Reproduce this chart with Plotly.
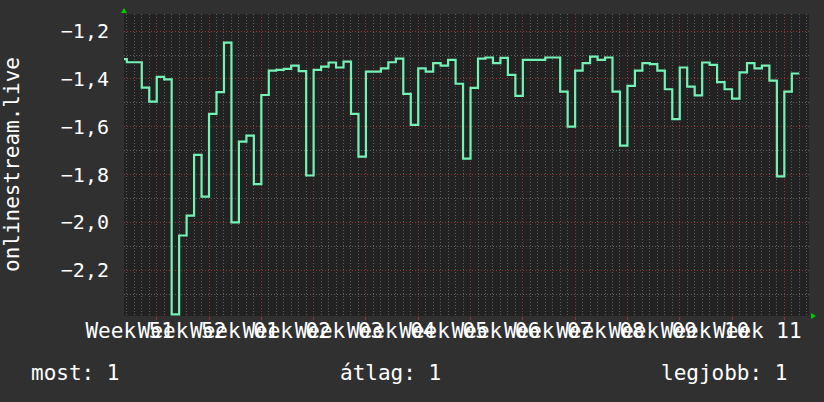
import plotly.graph_objects as go

# ---- data (daily values, day offsets relative to the start of "Week 52") ----
first_day = -5
values = [
    -1.317, -1.330, -1.330, -1.436, -1.495, -1.391, -1.402,
    -2.385, -2.055, -1.972, -1.718, -1.892, -1.546, -1.455, -1.248, -2.000,
    -1.662, -1.637, -1.840, -1.467, -1.365,
    -1.362, -1.358, -1.344, -1.367, -1.804, -1.362, -1.348, -1.331, -1.352,
    -1.327, -1.546, -1.725, -1.369, -1.369, -1.356,
    -1.330, -1.315, -1.462, -1.592, -1.356, -1.369, -1.334, -1.344, -1.320,
    -1.420, -1.733, -1.437, -1.315, -1.310, -1.334, -1.312, -1.383, -1.471,
    -1.320, -1.320,
    -1.320, -1.310, -1.310, -1.453, -1.599, -1.365, -1.334, -1.306, -1.320,
    -1.310, -1.453, -1.679, -1.429, -1.365, -1.334, -1.338, -1.365, -1.443,
    -1.568, -1.352, -1.432, -1.469, -1.331, -1.341, -1.413, -1.443, -1.482,
    -1.372, -1.334, -1.356, -1.344, -1.407, -1.808, -1.453, -1.377,
]
week_labels = ["Week 51", "Week 52", "Week 01", "Week 02", "Week 03", "Week 04",
               "Week 05", "Week 06", "Week 07", "Week 08", "Week 09", "Week 10",
               "Week 11"]
week_ends = [0, 7, 14, 21, 28, 35, 42, 49, 56, 63, 70, 77, 84]
y_ticks = [-2.2, -2.0, -1.8, -1.6, -1.4, -1.2]
y_title = "onlinestream.live"
summary_labels = ["most: 1", "átlag: 1", "legjobb: 1"]

x_range = [-4.38, 87.3]
y_range = [-2.392, -1.128]

# step line: each value covers one day; repeat last value to close its day
xs = list(range(first_day, first_day + len(values) + 1))
ys = values + [values[-1]]

FONT = "DejaVu Sans Mono"
BG = "#303030"
PLOT_BG = "#222222"
LINE = "#74f2b6"
MAJOR = "rgba(150,55,55,0.95)"
MINOR = "rgba(95,95,95,1)"

fig = go.Figure()
fig.add_trace(go.Scatter(
    x=xs, y=ys, mode="lines",
    line=dict(color=LINE, width=2.2, shape="hv"),
    hoverinfo="skip", showlegend=False,
))

fig.update_layout(
    width=824, height=402,
    margin=dict(l=124, r=15, t=14, b=86, autoexpand=False),
    paper_bgcolor=BG, plot_bgcolor=PLOT_BG,
    font=dict(family=FONT, size=20, color="#ffffff"),
    separators=", ",
    showlegend=False,
)

fig.update_xaxes(
    range=x_range, automargin=False, tickangle=0,
    tickmode="array", tickvals=week_ends, ticktext=week_labels,
    ticklabelshift=-27, ticklabelstandoff=-7,
    ticks="outside", ticklen=3, tickcolor=MAJOR, tickwidth=1,
    showgrid=True, gridcolor=MAJOR, griddash="1px,2px", gridwidth=1,
    minor=dict(tickmode="linear", tick0=0, dtick=1, showgrid=True,
               gridcolor=MINOR, griddash="1px,2px", gridwidth=1, ticks=""),
    zeroline=False, showline=False,
    tickfont=dict(family=FONT, size=21, color="#ffffff"),
)
fig.update_yaxes(
    range=y_range, automargin=False,
    tickmode="array", tickvals=y_ticks, tickformat=".1f",
    ticks="", ticklabelstandoff=14,
    showgrid=True, gridcolor=MAJOR, griddash="1px,2px", gridwidth=1,
    minor=dict(tickmode="linear", tick0=-1.3, dtick=0.2, showgrid=True,
               gridcolor=MINOR, griddash="1px,2px", gridwidth=1, ticks=""),
    zeroline=False, showline=False,
    tickfont=dict(family=FONT, size=20, color="#ffffff"),
)

# y axis title
fig.add_annotation(
    xref="paper", yref="paper", x=0, y=0.5, xshift=-112,
    text=y_title, textangle=-90, showarrow=False,
    font=dict(family=FONT, size=21, color="#ffffff"),
    xanchor="center", yanchor="middle",
)

# summary line under the chart
summary_x = [-95, 214, 535]
for lbl, sx in zip(summary_labels, summary_x):
    fig.add_annotation(
        xref="paper", yref="paper", x=0, y=0, xshift=sx, yshift=-57,
        text=lbl, showarrow=False, xanchor="left", yanchor="middle",
        font=dict(family=FONT, size=21, color="#ffffff"),
    )

# axis arrows (rrdtool style)
fig.add_shape(type="path", xref="paper", yref="paper",
              xsizemode="pixel", ysizemode="pixel", xanchor=0, yanchor=1,
              path="M -3,1 L 3,1 L 0,6 Z", fillcolor="#00cc00",
              line=dict(width=0))
fig.add_shape(type="path", xref="paper", yref="paper",
              xsizemode="pixel", ysizemode="pixel", xanchor=1, yanchor=0,
              path="M 2,3 L 2,-3 L 7,0 Z", fillcolor="#00cc00",
              line=dict(width=0))

fig.write_html("out.html",
               config={"displayModeBar": False},
               post_script="document.body.style.margin='0';"
                           "document.body.style.background='" + BG + "';")
